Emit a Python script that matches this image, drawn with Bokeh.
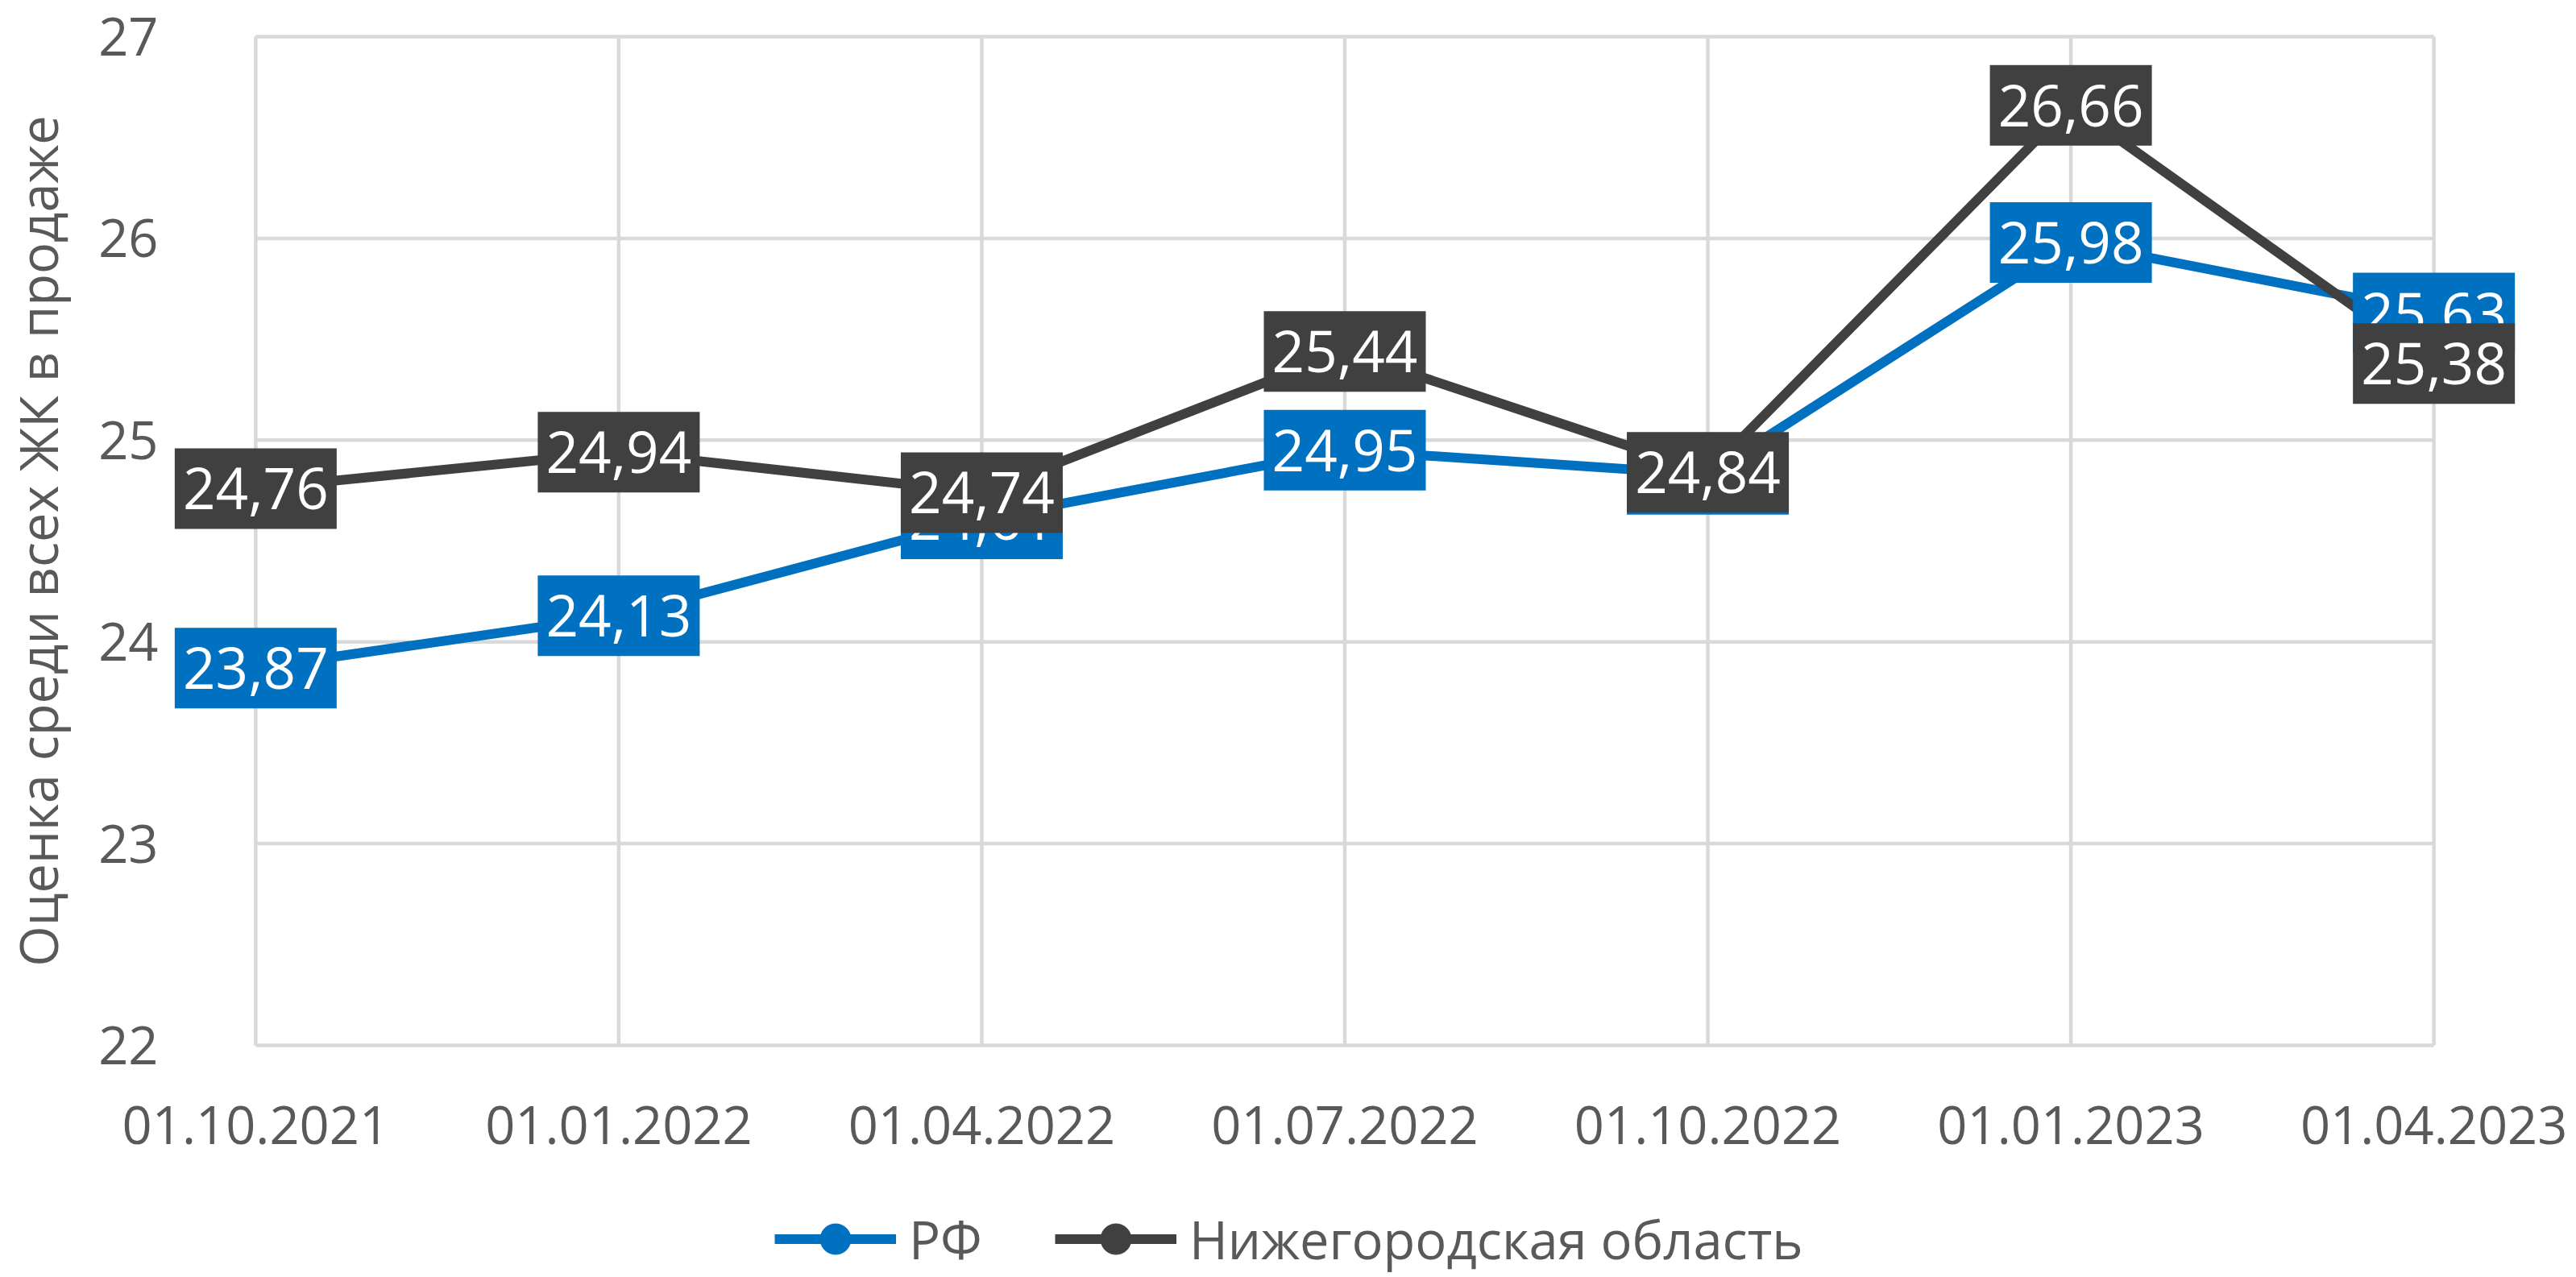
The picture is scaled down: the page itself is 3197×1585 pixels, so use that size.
from bokeh.plotting import figure
from bokeh.layouts import column
from bokeh.models import ColumnDataSource, Legend, LegendItem, FixedTicker, Range1d
from bokeh.embed import file_html
from bokeh.resources import INLINE
from bokeh.core.properties import value

# ---- data ----
dates = ["01.10.2021", "01.01.2022", "01.04.2022", "01.07.2022",
         "01.10.2022", "01.01.2023", "01.04.2023"]
rf = [23.87, 24.13, 24.61, 24.95, 24.83, 25.98, 25.63]
nizh = [24.76, 24.94, 24.74, 25.44, 24.84, 26.66, 25.38]
y_ticks = [22, 23, 24, 25, 26, 27]
y_title = "Оценка среди всех ЖК в продаже"
name_rf = "РФ"
name_nizh = "Нижегородская область"

BLUE = "#0070C0"
DARK = "#404040"
GRID = "#D9D9D9"
TXT = "#595959"
FONT = "Open Sans"

xs = list(range(len(dates)))
x_lo, x_hi = xs[0], xs[-1]
y_lo, y_hi = y_ticks[0], y_ticks[-1]


def fmt(v):
    return f"{v:.2f}".replace(".", ",")


src_rf = ColumnDataSource(dict(x=xs, y=rf, t=[fmt(v) for v in rf]))
src_nz = ColumnDataSource(dict(x=xs, y=nizh, t=[fmt(v) for v in nizh]))

# pad the ranges a little so the data-label boxes at the ends are not clipped
PADX = 0.2305
PADY = 0.02

W = 3197
H_MAIN = 1480
H_LEG = 1585 - H_MAIN

p = figure(width=W, height=H_MAIN, output_backend="svg", toolbar_location=None,
           x_range=Range1d(x_lo - PADX, x_hi + PADX),
           y_range=Range1d(y_lo - PADY, y_hi + PADY),
           min_border_left=208, min_border_right=73,
           min_border_top=40, min_border_bottom=H_MAIN - 1302)
p.background_fill_color = "white"
p.border_fill_color = "white"
p.outline_line_color = None
p.xgrid.visible = False
p.ygrid.visible = False

# grid lines limited to the data area
p.segment(x0=[x_lo] * len(y_ticks), y0=y_ticks, x1=[x_hi] * len(y_ticks), y1=y_ticks,
          line_color=GRID, line_width=4.5)
p.segment(x0=xs, y0=[y_lo] * len(xs), x1=xs, y1=[y_hi] * len(xs),
          line_color=GRID, line_width=4.5)

# axes
p.xaxis.ticker = FixedTicker(ticks=xs)
p.xaxis.major_label_overrides = {i: d for i, d in enumerate(dates)}
p.yaxis.ticker = FixedTicker(ticks=y_ticks)
for ax in (p.xaxis, p.yaxis):
    ax.axis_line_color = None
    ax.major_tick_line_color = None
    ax.minor_tick_line_color = None
    ax.major_tick_out = 0
    ax.major_tick_in = 0
    ax.major_label_text_font = FONT
    ax.major_label_text_font_size = "65px"
    ax.major_label_text_color = TXT
p.xaxis.major_label_standoff = 70
p.yaxis.major_label_standoff = 17
p.yaxis.axis_label = y_title
p.yaxis.axis_label_text_font = FONT
p.yaxis.axis_label_text_font_size = "65px"
p.yaxis.axis_label_text_font_style = "normal"
p.yaxis.axis_label_text_color = TXT
p.yaxis.axis_label_standoff = 28

# lines
p.line("x", "y", source=src_rf, line_color=BLUE, line_width=12)
p.line("x", "y", source=src_nz, line_color=DARK, line_width=12)
p.scatter("x", "y", source=src_rf, size=38, marker="circle",
          fill_color=BLUE, line_color=BLUE)
p.scatter("x", "y", source=src_nz, size=38, marker="circle",
          fill_color=DARK, line_color=DARK)

# data labels (RF first, region on top)
for src, col in ((src_rf, BLUE), (src_nz, DARK)):
    p.rect("x", "y", source=src, width=201, height=100,
           width_units="screen", height_units="screen",
           fill_color=col, line_color=None)
    p.text("x", "y", text="t", source=src, text_color="white",
           text_font=value(FONT), text_font_size="71px",
           text_align="center", text_baseline="alphabetic", y_offset=0)

# ---- legend strip below the chart (its frame is aligned with the chart's) ----
pl = figure(width=W, height=H_LEG, output_backend="svg", toolbar_location=None,
            x_axis_location=None, y_axis_location=None,
            x_range=Range1d(x_hi + 10, x_hi + 11), y_range=Range1d(0, 1),
            min_border_left=0, min_border_right=0,
            min_border_top=0, min_border_bottom=0)
pl.outline_line_color = None
pl.xgrid.visible = False
pl.ygrid.visible = False
pl.background_fill_color = "white"
pl.border_fill_color = "white"
# legend-only renderers (their points lie outside this strip's view)
lr = pl.line(x=xs[:2], y=rf[:2], line_color=BLUE, line_width=12)
mr = pl.scatter(x=xs[:1], y=rf[:1], size=38, marker="circle", fill_color=BLUE, line_color=BLUE)
ln = pl.line(x=xs[:2], y=nizh[:2], line_color=DARK, line_width=12)
mn = pl.scatter(x=xs[:1], y=nizh[:1], size=38, marker="circle", fill_color=DARK, line_color=DARK)

legend = Legend(items=[LegendItem(label=name_rf, renderers=[lr, mr]),
                       LegendItem(label=name_nizh, renderers=[ln, mn])],
                orientation="horizontal", location=(748, 0),
                glyph_width=151, glyph_height=95, label_standoff=16,
                spacing=90, padding=0, margin=0,
                border_line_color=None, background_fill_alpha=0,
                label_text_font=FONT, label_text_font_size="65px",
                label_text_color=TXT)
pl.add_layout(legend, "center")

layout = column(p, pl, spacing=0)
open("out.html", "w").write(file_html(layout, INLINE))
